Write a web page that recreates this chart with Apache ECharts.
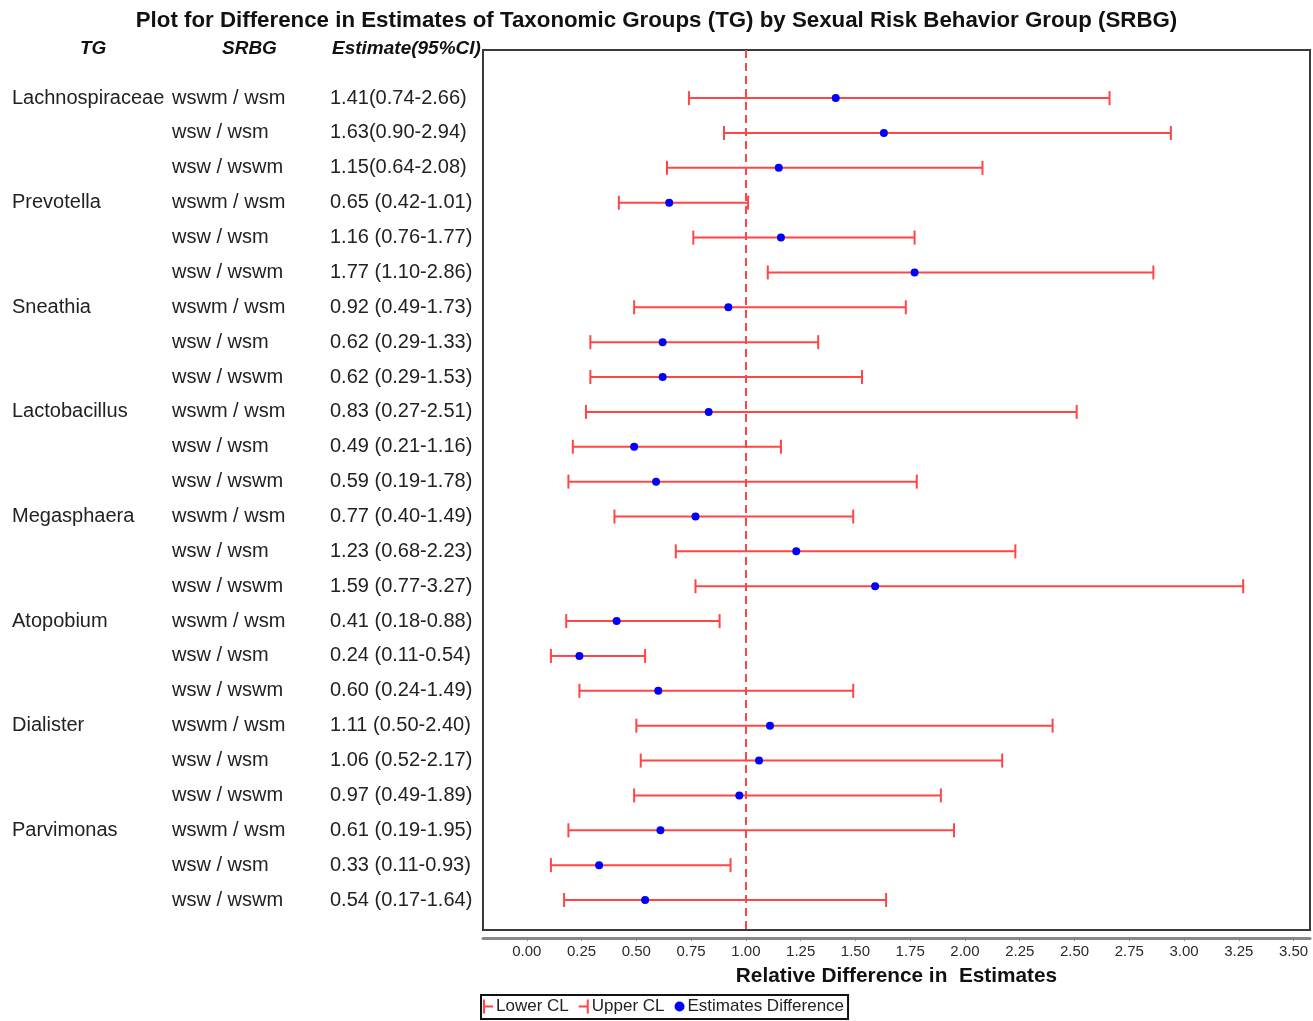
<!DOCTYPE html>
<html>
<head>
<meta charset="utf-8">
<title>TG by SRBG</title>
<script src="https://cdn.jsdelivr.net/npm/echarts@6/dist/echarts.min.js"></script>
<style>
  html, body { margin: 0; padding: 0; background: #fff; }
  #chart { width: 1313px; height: 1021px; }
</style>
</head>
<body>
<div id="chart"></div>
<script>
// taxonomic groups and the three comparisons per group
var tgNames = ['Lachnospiraceae', 'Prevotella', 'Sneathia', 'Lactobacillus',
    'Megasphaera', 'Atopobium', 'Dialister', 'Parvimonas'];
var srbgPairs = ['wswm / wsm', 'wsw / wsm', 'wsw / wswm'];

// estimates and 95% CI, one per row (group x pair)
var estimates = [1.41, 1.63, 1.15, 0.65, 1.16, 1.77, 0.92, 0.62, 0.62, 0.83, 0.49, 0.59,
    0.77, 1.23, 1.59, 0.41, 0.24, 0.60, 1.11, 1.06, 0.97, 0.61, 0.33, 0.54];
var lowerCL = [0.74, 0.90, 0.64, 0.42, 0.76, 1.10, 0.49, 0.29, 0.29, 0.27, 0.21, 0.19,
    0.40, 0.68, 0.77, 0.18, 0.11, 0.24, 0.50, 0.52, 0.49, 0.19, 0.11, 0.17];
var upperCL = [2.66, 2.94, 2.08, 1.01, 1.77, 2.86, 1.73, 1.33, 1.53, 2.51, 1.16, 1.78,
    1.49, 2.23, 3.27, 0.88, 0.54, 1.49, 2.40, 2.17, 1.89, 1.95, 0.93, 1.64];
// the estimate column as printed (first group has no space)
var estimateText = ['1.41(0.74-2.66)', '1.63(0.90-2.94)', '1.15(0.64-2.08)',
    '0.65 (0.42-1.01)', '1.16 (0.76-1.77)', '1.77 (1.10-2.86)',
    '0.92 (0.49-1.73)', '0.62 (0.29-1.33)', '0.62 (0.29-1.53)',
    '0.83 (0.27-2.51)', '0.49 (0.21-1.16)', '0.59 (0.19-1.78)',
    '0.77 (0.40-1.49)', '1.23 (0.68-2.23)', '1.59 (0.77-3.27)',
    '0.41 (0.18-0.88)', '0.24 (0.11-0.54)', '0.60 (0.24-1.49)',
    '1.11 (0.50-2.40)', '1.06 (0.52-2.17)', '0.97 (0.49-1.89)',
    '0.61 (0.19-1.95)', '0.33 (0.11-0.93)', '0.54 (0.17-1.64)'];
var xTicks = [0, 0.25, 0.5, 0.75, 1, 1.25, 1.5, 1.75, 2, 2.25, 2.5, 2.75, 3, 3.25, 3.5];
var refValue = 1;

var rowIdx = estimates.map(function (v, i) { return i; });

var chart = echarts.init(document.getElementById('chart'));

// half of a CI bar: line from estimate to the limit, cap at the limit
function ciHalf(params, api) {
    var y = api.value(0);
    var p0 = api.coord([api.value(1), y]);
    var p1 = api.coord([api.value(2), y]);
    var style = { stroke: '#ff4545', lineWidth: 2 };
    return {
        type: 'group',
        children: [
            { type: 'line', shape: { x1: p0[0], y1: p0[1], x2: p1[0], y2: p1[1] }, style: style },
            { type: 'line', shape: { x1: p1[0], y1: p1[1] - 7, x2: p1[0], y2: p1[1] + 7 }, style: style }
        ]
    };
}

var fontMain = '"Liberation Sans", Arial, sans-serif';

var option = {
    animation: false,
    title: {
        text: 'Plot for Difference in Estimates of Taxonomic Groups (TG) by Sexual Risk Behavior Group (SRBG)',
        left: 'center',
        top: 5,
        textStyle: { fontFamily: fontMain, fontSize: 22.3, fontWeight: 'bold', color: '#111' }
    },
    graphic: [
        { type: 'text', left: 80, top: 39, style: { text: 'TG', font: 'italic bold 19px ' + fontMain, fill: '#111' } },
        { type: 'text', left: 222, top: 39, style: { text: 'SRBG', font: 'italic bold 19px ' + fontMain, fill: '#111' } },
        { type: 'text', left: 332, top: 39, style: { text: 'Estimate(95%CI)', font: 'italic bold 19px ' + fontMain, fill: '#111' } }
    ],
    legend: {
        left: 481,
        top: 995,
        orient: 'horizontal',
        itemWidth: 10,
        itemHeight: 14,
        itemGap: 10,
        padding: [3, 4, 4, 2],
        borderColor: '#111',
        borderWidth: 2,
        textStyle: { fontFamily: fontMain, fontSize: 17, color: '#222', padding: [0, 0, 0, -2] },
        data: [
            { name: 'Lower CL', icon: 'path://M0,0h2v14h-2z M2,6h8v2h-8z', itemStyle: { color: '#ff4545' } },
            { name: 'Upper CL', icon: 'path://M8,0h2v14h-2z M0,6h8v2h-8z', itemStyle: { color: '#ff4545' } },
            { name: 'Estimates Difference', icon: 'circle', itemStyle: { color: '#0000ff' } }
        ]
    },
    grid: {
        left: 483,
        top: 50,
        width: 827,
        height: 880,
        show: true,
        borderColor: '#3a3a3a',
        borderWidth: 2,
        containLabel: false
    },
    xAxis: {
        type: 'value',
        min: -0.2,
        max: 3.575,
        offset: 8,
        name: 'Relative Difference in  Estimates',
        nameLocation: 'middle',
        nameGap: 28,
        nameTextStyle: { fontFamily: fontMain, fontSize: 20.8, fontWeight: 'bold', color: '#111' },
        axisLine: { show: true, onZero: false, lineStyle: { color: '#888', width: 3 } },
        axisTick: { show: true, customValues: xTicks, length: 3, inside: false, lineStyle: { color: '#888' } },
        axisLabel: {
            customValues: xTicks,
            margin: 6,
            fontFamily: fontMain,
            fontSize: 15,
            color: '#2a2a2a',
            formatter: function (v) { return v.toFixed(2); }
        },
        splitLine: { show: false }
    },
    yAxis: {
        type: 'value',
        inverse: true,
        min: -1.38,
        max: 23.86,
        axisLine: { show: false },
        axisTick: { show: false },
        splitLine: { show: false },
        axisLabel: {
            customValues: rowIdx,
            align: 'left',
            margin: 471,
            formatter: function (v) {
                var i = Math.round(v);
                var tg = (i % 3 === 0) ? tgNames[i / 3] : '';
                return '{tg|' + tg + '}{sr|' + srbgPairs[i % 3] + '}{est|' + estimateText[i] + '}';
            },
            rich: {
                tg: { width: 160, fontFamily: fontMain, fontSize: 20, color: '#222' },
                sr: { width: 158, fontFamily: fontMain, fontSize: 20, color: '#222' },
                est: { fontFamily: fontMain, fontSize: 20, color: '#222' }
            }
        }
    },
    series: [
        {
            name: 'Lower CL',
            type: 'custom',
            renderItem: ciHalf,
            encode: { x: [1, 2], y: 0 },
            data: rowIdx.map(function (i) { return [i, estimates[i], lowerCL[i]]; }),
            z: 2
        },
        {
            name: 'Upper CL',
            type: 'custom',
            renderItem: ciHalf,
            encode: { x: [1, 2], y: 0 },
            data: rowIdx.map(function (i) { return [i, estimates[i], upperCL[i]]; }),
            z: 2
        },
        {
            name: 'Estimates Difference',
            type: 'scatter',
            symbol: 'circle',
            symbolSize: 8,
            itemStyle: { color: '#0000ff', opacity: 1 },
            data: rowIdx.map(function (i) { return [estimates[i], i]; }),
            markLine: {
                silent: true,
                symbol: 'none',
                label: { show: false },
                lineStyle: { color: '#ff4545', type: [8, 5], width: 2 },
                data: [{ xAxis: refValue }]
            },
            z: 3
        }
    ]
};

chart.setOption(option);
</script>
</body>
</html>
